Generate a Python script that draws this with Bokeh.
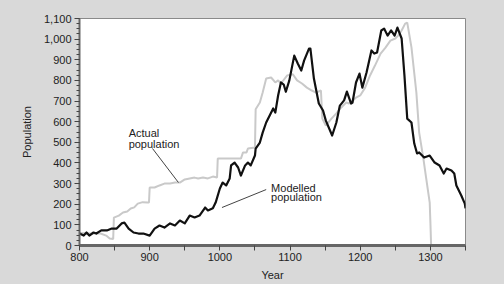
from bokeh.plotting import figure
from bokeh.models import Range1d, FixedTicker, NumeralTickFormatter
from bokeh.core.properties import value
from bokeh.embed import file_html
from bokeh.resources import INLINE

# ---- data ----
model_year = [800, 806, 810, 814, 820, 824, 831, 839, 846, 853, 860, 864, 870, 877, 884, 891,
              900, 907, 914, 921, 929, 936, 943, 950, 957, 964, 971, 979, 983, 990, 994,
              1000, 1004, 1009, 1014, 1016, 1021, 1026, 1030, 1036, 1040, 1044, 1050, 1051,
              1057, 1061, 1066, 1071, 1076, 1079, 1083, 1087, 1091, 1094, 1099, 1106, 1111,
              1116, 1120, 1127, 1129, 1134, 1141, 1147, 1151, 1160, 1166, 1171, 1177, 1181,
              1187, 1189, 1194, 1199, 1203, 1209, 1216, 1220, 1224, 1230, 1234, 1239, 1244,
              1249, 1253, 1259, 1263, 1267, 1273, 1277, 1281, 1284, 1291, 1299, 1306, 1313,
              1319, 1323, 1330, 1334, 1337, 1344, 1349, 1350]
model_pop = [58, 48, 63, 48, 63, 58, 73, 73, 82, 82, 107, 111, 82, 63, 58, 58,
             48, 82, 97, 87, 107, 97, 121, 107, 145, 136, 145, 184, 170, 180, 208,
             276, 305, 291, 325, 388, 402, 378, 339, 388, 402, 388, 436, 470,
             499, 547, 596, 630, 664, 644, 727, 790, 780, 745, 800, 920, 882,
             848, 896, 954, 954, 809, 688, 654, 605, 533, 596, 678, 703, 746,
             688, 693, 790, 833, 765, 838, 945, 930, 935, 1042, 1051, 1017, 1042,
             1017, 1056, 1003, 824, 615, 596, 494, 446, 451, 426, 436, 402, 388,
             349, 373, 363, 349, 291, 242, 203, 180]

act_year = [800, 815, 830, 838, 843, 848, 849, 856, 862, 868, 873, 878, 883, 890, 897, 899,
            900, 907, 914, 921, 929, 936, 943, 950, 957, 964, 969, 976, 983, 990, 996, 997,
            1030, 1033, 1038, 1040, 1050, 1051, 1057, 1061, 1066, 1073, 1079, 1083, 1087,
            1096, 1104, 1110, 1117, 1124, 1131, 1137, 1144, 1146, 1151, 1159, 1166, 1173,
            1180, 1184, 1190, 1194, 1200, 1207, 1214, 1221, 1229, 1236, 1243, 1250, 1254,
            1259, 1264, 1267, 1273, 1280, 1284, 1290, 1294, 1299, 1300, 1301]
act_pop = [60, 58, 58, 48, 34, 32, 135, 145, 160, 165, 179, 185, 203, 210, 208, 208,
           281, 281, 291, 300, 300, 305, 305, 320, 325, 329, 325, 330, 325, 334, 330, 421,
           421, 451, 451, 470, 475, 660, 693, 741, 809, 814, 790, 800, 785,
           824, 830, 800, 785, 765, 751, 741, 751, 615, 581, 615, 640, 669,
           693, 688, 703, 717, 727, 765, 824, 872, 930, 959, 993, 1003, 1017,
           1042, 1075, 1080, 960, 741, 547, 421, 325, 208, 111, 0]

x_major = [800, 900, 1000, 1100, 1200, 1300]
x_minor = [850, 950, 1050, 1150, 1250, 1350]
y_major = [0, 100, 200, 300, 400, 500, 600, 700, 800, 900, 1000, 1100]
y_minor = list(range(0, 1101, 25))

# annotation texts and anchor points
ann_text = ["Actual", "population", "Modelled", "population"]
ann_x = [870, 870, 1073, 1073]
ann_y = [543, 494, 281, 233]
lead_x0 = [904, 1066]
lead_y0 = [470, 271]
lead_x1 = [941, 1003]
lead_y1 = [305, 184]

FONT = "Liberation Sans"
BG = "#d9d9d9"

p = figure(width=504, height=284, output_backend="svg", toolbar_location=None,
           x_range=Range1d(800, 1350), y_range=Range1d(0, 1100),
           min_border_left=79, min_border_right=39, min_border_top=18, min_border_bottom=39)
p.background_fill_color = "white"
p.border_fill_color = BG
p.outline_line_color = "#8a8a8a"
p.outline_line_width = 1
p.grid.visible = False

p.line(act_year, act_pop, line_color="#c9c9c9", line_width=2)
p.line(model_year, model_pop, line_color="#111111", line_width=2.2, line_join="round")

p.segment(x0=lead_x0, y0=lead_y0, x1=lead_x1, y1=lead_y1, line_color="#444444", line_width=1)
p.text(x=ann_x, y=ann_y, text=ann_text, text_font=value(FONT), text_font_size="11px",
       text_color="#222222", text_baseline="alphabetic", text_align="left")

xa = p.xaxis[0]
xa.ticker = FixedTicker(ticks=x_major, minor_ticks=x_minor)
xa.axis_label = "Year"
xa.axis_line_color = "#666666"
xa.axis_line_width = 3
xa.major_tick_out = 5
xa.major_tick_in = 0
xa.minor_tick_out = 5
xa.minor_tick_in = 0
xa.major_tick_line_color = "#444444"
xa.minor_tick_line_color = "#444444"
xa.major_label_standoff = 2
xa.axis_label_standoff = 5

ya = p.yaxis[0]
ya.ticker = FixedTicker(ticks=y_major, minor_ticks=y_minor)
ya.formatter = NumeralTickFormatter(format="0,0")
ya.axis_label = "Population"
ya.axis_line_color = "#666666"
ya.axis_line_width = 2
ya.major_tick_out = 5
ya.major_tick_in = 0
ya.minor_tick_out = 3
ya.minor_tick_in = 0
ya.major_tick_line_color = "#444444"
ya.minor_tick_line_color = "#444444"
ya.major_label_standoff = 3
ya.axis_label_standoff = 8

for ax in (xa, ya):
    ax.major_label_text_font = FONT
    ax.major_label_text_font_size = "11px"
    ax.major_label_text_color = "#222222"
    ax.axis_label_text_font = FONT
    ax.axis_label_text_font_size = "11px"
    ax.axis_label_text_font_style = "normal"
    ax.axis_label_text_color = "#222222"

open("out.html", "w").write(file_html(p, INLINE).replace("<body>", '<body style="background-color:%s;">' % BG))
